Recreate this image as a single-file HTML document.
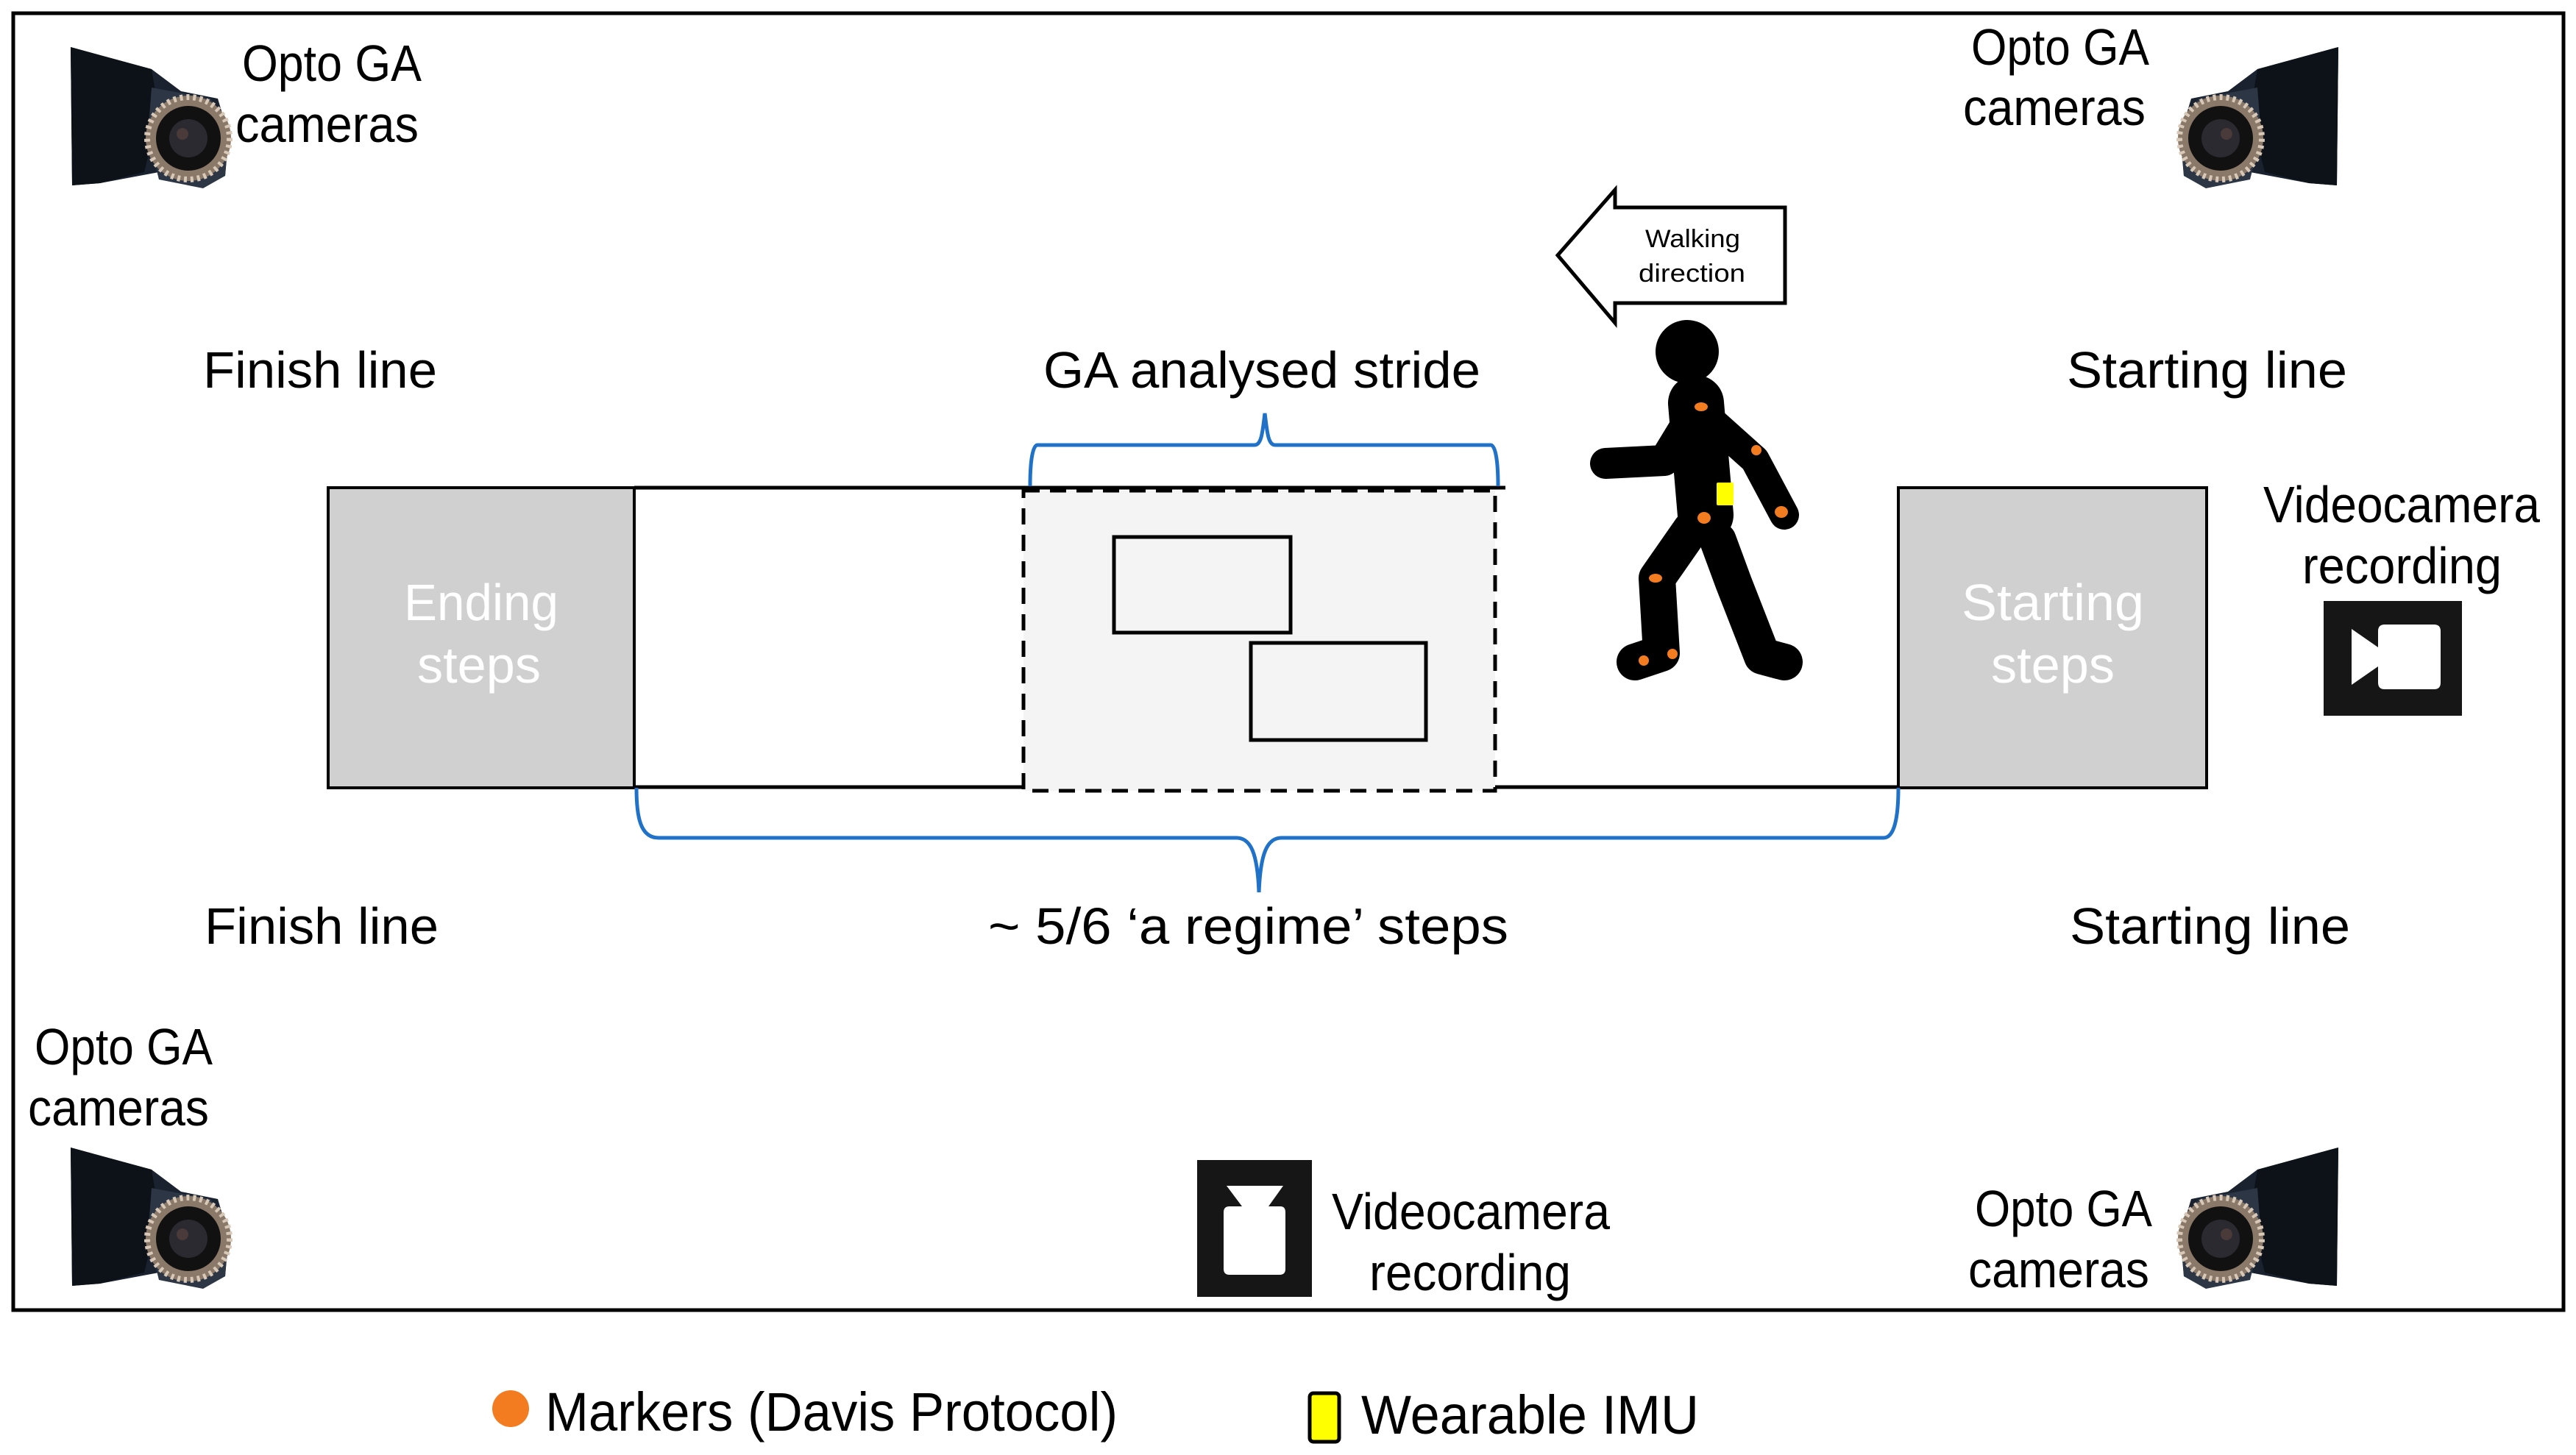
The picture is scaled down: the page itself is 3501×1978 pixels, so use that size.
<!DOCTYPE html>
<html><head><meta charset="utf-8"><style>html,body{margin:0;padding:0;background:#fff}svg{display:block}text{font-family:"Liberation Sans",sans-serif;fill:#000}</style></head>
<body>
<svg width="3501" height="1978" viewBox="0 0 3501 1978" xmlns="http://www.w3.org/2000/svg">
<defs>
<g id="cam">
  <path d="M0,0 L110,30 L150,60 L200,70 L215,120 L210,175 L180,190 L120,170 L40,185 L2,188 Z" fill="#1a2230"/>
  <path d="M0,0 L110,30 L120,90 L100,170 L40,185 L2,188 Z" fill="#0d1218"/>
  <path d="M110,55 L190,70 L215,110 L210,175 L180,192 L120,180 L105,120 Z" fill="#2c3644"/>
  <circle cx="160" cy="124" r="58" fill="#8a7868"/>
  <circle cx="160" cy="124" r="56" fill="none" stroke="#d8c8b8" stroke-width="8" stroke-dasharray="4,5"/>
  <circle cx="160" cy="124" r="44" fill="#111"/>
  <circle cx="160" cy="124" r="26" fill="#2a2a30"/>
  <circle cx="152" cy="118" r="8" fill="#4a3a3a"/>
</g>
</defs>
<rect x="18" y="18" width="3466" height="1763" fill="none" stroke="#000" stroke-width="5"/>

<use href="#cam" transform="translate(96,64)"/>
<use href="#cam" transform="translate(3178,64) scale(-1,1)"/>
<use href="#cam" transform="translate(96,1560)"/>
<use href="#cam" transform="translate(3178,1560) scale(-1,1)"/>

<rect x="446" y="663" width="416" height="408" fill="#d0d0d0" stroke="#000" stroke-width="4"/>
<rect x="2580" y="663" width="419" height="408" fill="#d0d0d0" stroke="#000" stroke-width="4"/>
<line x1="862" y1="663" x2="2046" y2="663" stroke="#000" stroke-width="5"/>
<line x1="862" y1="1070" x2="2580" y2="1070" stroke="#000" stroke-width="5"/>
<line x1="862" y1="663" x2="862" y2="1071" stroke="#000" stroke-width="4"/>
<rect x="1391" y="667" width="641" height="408" fill="#f4f4f4" stroke="#000" stroke-width="5" stroke-dasharray="22,14"/>
<rect x="1514" y="730" width="240" height="130" fill="#f4f4f4" stroke="#000" stroke-width="5"/>
<rect x="1700" y="874" width="238" height="132" fill="#f4f4f4" stroke="#000" stroke-width="5"/>

<path d="M1400,661 C1400,630 1403,605 1410,605 L1705,605 C1715,605 1716,585 1719,562 C1722,585 1723,605 1733,605 L2026,605 C2033,605 2036,630 2036,661" fill="none" stroke="#1f72c8" stroke-width="5"/>
<path d="M865,1071 C865,1110 870,1139 895,1139 L1680,1139 C1700,1139 1709,1160 1711,1213 C1713,1160 1722,1139 1742,1139 L2560,1139 C2575,1139 2580,1110 2580,1071" fill="none" stroke="#1f72c8" stroke-width="5"/>

<path d="M2117,347 L2195,258 L2195,282 L2426,282 L2426,412 L2195,412 L2195,439 Z" fill="#fff" stroke="#000" stroke-width="5"/>
<text x="2236" y="336" font-size="34" textLength="129" lengthAdjust="spacingAndGlyphs">Walking</text>
<text x="2227" y="383" font-size="34" textLength="145" lengthAdjust="spacingAndGlyphs">direction</text>

<g stroke="#000" stroke-linecap="round" stroke-linejoin="round" fill="none">
  <line x1="2305" y1="548" x2="2318" y2="700" stroke-width="76"/>
  <polyline points="2290,580 2262,626 2182,630" stroke-width="42"/>
  <polyline points="2318,565 2385,625 2425,700" stroke-width="40"/>
  <polyline points="2298,720 2252,786 2258,888 2222,900" stroke-width="50"/>
  <polyline points="2335,735 2356,792 2395,892 2425,900" stroke-width="50"/>
</g>
<circle cx="2293" cy="478" r="43" fill="#000"/>
<g fill="#f47c20">
  <ellipse cx="2312" cy="553" rx="9" ry="6"/>
  <circle cx="2387" cy="612" r="7"/>
  <ellipse cx="2421" cy="696" rx="9" ry="8"/>
  <ellipse cx="2316" cy="704" rx="9" ry="8"/>
  <ellipse cx="2250" cy="786" rx="9" ry="6"/>
  <circle cx="2273" cy="889" r="7"/>
  <circle cx="2234" cy="898" r="7"/>
</g>
<rect x="2333" y="656" width="23" height="31" fill="#ffff00" rx="2"/>

<rect x="3158" y="817" width="188" height="156" fill="#161616"/>
<path d="M3196,855 L3232,880 L3232,858 Q3232,849 3241,849 L3308,849 Q3317,849 3317,858 L3317,928 Q3317,937 3308,937 L3241,937 Q3232,937 3232,928 L3232,906 L3196,931 Z" fill="#fff"/>
<rect x="1627" y="1577" width="156" height="186" fill="#161616"/>
<path d="M1667,1612 L1744,1612 L1724,1640 L1740,1640 Q1747,1640 1747,1648 L1747,1725 Q1747,1733 1739,1733 L1671,1733 Q1663,1733 1663,1725 L1663,1648 Q1663,1640 1671,1640 L1688,1640 Z" fill="#fff"/>

<g font-size="70">
<text x="276" y="527" textLength="318" lengthAdjust="spacingAndGlyphs">Finish line</text>
<text x="1418" y="527" textLength="594" lengthAdjust="spacingAndGlyphs">GA analysed stride</text>
<text x="2809" y="527" textLength="381" lengthAdjust="spacingAndGlyphs">Starting line</text>
<text x="278" y="1283" textLength="318" lengthAdjust="spacingAndGlyphs">Finish line</text>
<text x="1343" y="1283" textLength="707" lengthAdjust="spacingAndGlyphs">~ 5/6 ‘a regime’ steps</text>
<text x="2813" y="1283" textLength="381" lengthAdjust="spacingAndGlyphs">Starting line</text>
<text x="329" y="110" textLength="244" lengthAdjust="spacingAndGlyphs">Opto GA</text>
<text x="320" y="193" textLength="249" lengthAdjust="spacingAndGlyphs">cameras</text>
<text x="2679" y="88" textLength="242" lengthAdjust="spacingAndGlyphs">Opto GA</text>
<text x="2668" y="170" textLength="248" lengthAdjust="spacingAndGlyphs">cameras</text>
<text x="47" y="1447" textLength="242" lengthAdjust="spacingAndGlyphs">Opto GA</text>
<text x="38" y="1530" textLength="246" lengthAdjust="spacingAndGlyphs">cameras</text>
<text x="2684" y="1667" textLength="241" lengthAdjust="spacingAndGlyphs">Opto GA</text>
<text x="2675" y="1750" textLength="246" lengthAdjust="spacingAndGlyphs">cameras</text>
<text x="3076" y="710" textLength="376" lengthAdjust="spacingAndGlyphs">Videocamera</text>
<text x="3129" y="793" textLength="271" lengthAdjust="spacingAndGlyphs">recording</text>
<text x="1810" y="1671" textLength="378" lengthAdjust="spacingAndGlyphs">Videocamera</text>
<text x="1861" y="1754" textLength="274" lengthAdjust="spacingAndGlyphs">recording</text>
<text x="549" y="843" textLength="210" lengthAdjust="spacingAndGlyphs" style="fill:#fff">Ending</text>
<text x="567" y="928" textLength="168" lengthAdjust="spacingAndGlyphs" style="fill:#fff">steps</text>
<text x="2666" y="843" textLength="248" lengthAdjust="spacingAndGlyphs" style="fill:#fff">Starting</text>
<text x="2706" y="928" textLength="168" lengthAdjust="spacingAndGlyphs" style="fill:#fff">steps</text>
</g>

<circle cx="694" cy="1915" r="25" fill="#f47c20"/>
<text x="741" y="1945" font-size="74" textLength="778" lengthAdjust="spacingAndGlyphs">Markers (Davis Protocol)</text>
<rect x="1780" y="1894" width="40" height="66" rx="5" fill="#ffff00" stroke="#000" stroke-width="5"/>
<text x="1850" y="1949" font-size="74" textLength="459" lengthAdjust="spacingAndGlyphs">Wearable IMU</text>
</svg>
</body></html>
